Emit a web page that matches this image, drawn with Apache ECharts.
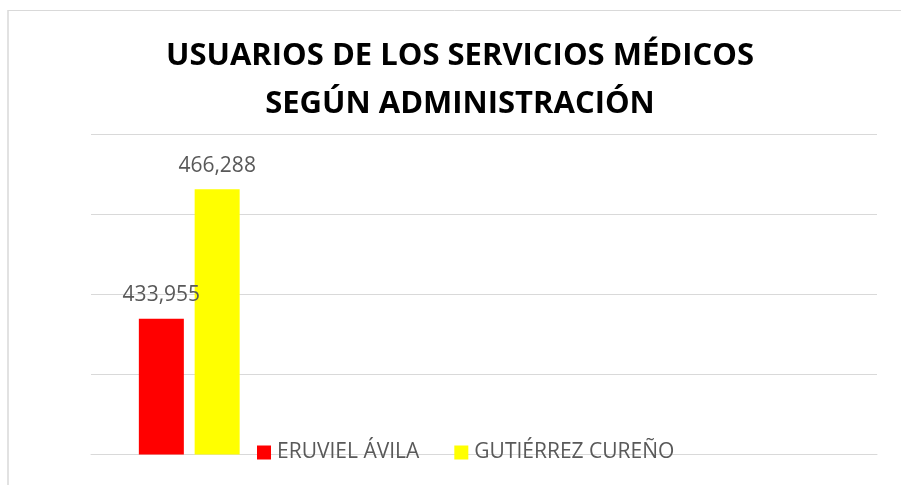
<!DOCTYPE html>
<html>
<head>
<meta charset="utf-8">
<script src="https://cdn.jsdelivr.net/npm/echarts@6/dist/echarts.min.js"></script>
<style>
html,body{margin:0;padding:0;background:#fff;}
#main{width:901px;height:485px;}
</style>
</head>
<body>
<div id="main"></div>
<script>
//数据
var categories = [''];
var seriesNames = ['ERUVIEL ÁVILA', 'GUTIÉRREZ CUREÑO'];
var eruvielData = [433955];
var gutierrezData = [466288];
var titleText = 'USUARIOS DE LOS SERVICIOS MÉDICOS\nSEGÚN ADMINISTRACIÓN';

var myChart = echarts.init(document.getElementById('main'));
var labelStyle = {
    show: true,
    position: 'top',
    distance: 13,
    color: '#595959',
    fontFamily: 'Open Sans',
    fontSize: 21,
    formatter: function (p) {
        return p.value.toLocaleString('en-US');
    }
};
var option = {
    animation: false,
    backgroundColor: '#fff',
    title: {
        text: titleText,
        left: 455,
        top: 27,
        textAlign: 'center',
        textStyle: {
            fontFamily: 'Open Sans',
            fontWeight: 'bold',
            fontSize: 31,
            lineHeight: 48,
            color: '#000'
        }
    },
    // 外边框
    graphic: [
        {type: 'line', shape: {x1: 8, y1: 10, x2: 8, y2: 485}, style: {stroke: '#d9d9d9', lineWidth: 1.5}},
        {type: 'line', shape: {x1: 8, y1: 10.5, x2: 901, y2: 10.5}, style: {stroke: '#d9d9d9', lineWidth: 1}}
    ],
    legend: {
        data: seriesNames,
        left: 257,
        top: 442,
        padding: 0,
        icon: 'rect',
        itemWidth: 14,
        itemHeight: 14,
        itemGap: 35,
        textStyle: {
            fontFamily: 'Open Sans',
            fontSize: 21,
            color: '#595959',
            padding: [0, 0, 0, 1]
        }
    },
    grid: {
        left: 91,
        right: 24,
        top: 134.5,
        bottom: 30.5
    },
    xAxis: {
        type: 'category',
        data: categories,
        max: 3,
        axisLine: {show: true, lineStyle: {color: '#d9d9d9', width: 1}},
        axisTick: {show: false},
        axisLabel: {show: false}
    },
    yAxis: {
        type: 'value',
        min: 400000,
        max: 480000,
        interval: 20000,
        axisLine: {show: false},
        axisTick: {show: false},
        axisLabel: {show: false},
        splitLine: {lineStyle: {color: '#d9d9d9', width: 1}}
    },
    series: [
        {
            name: seriesNames[0],
            type: 'bar',
            data: eruvielData,
            barWidth: 45,
            barGap: '24%',
            itemStyle: {color: '#FF0000'},
            label: labelStyle
        },
        {
            name: seriesNames[1],
            type: 'bar',
            data: gutierrezData,
            barWidth: 45,
            barGap: '24%',
            itemStyle: {color: '#FFFF00'},
            label: labelStyle
        }
    ]
};
myChart.setOption(option);
</script>
</body>
</html>
